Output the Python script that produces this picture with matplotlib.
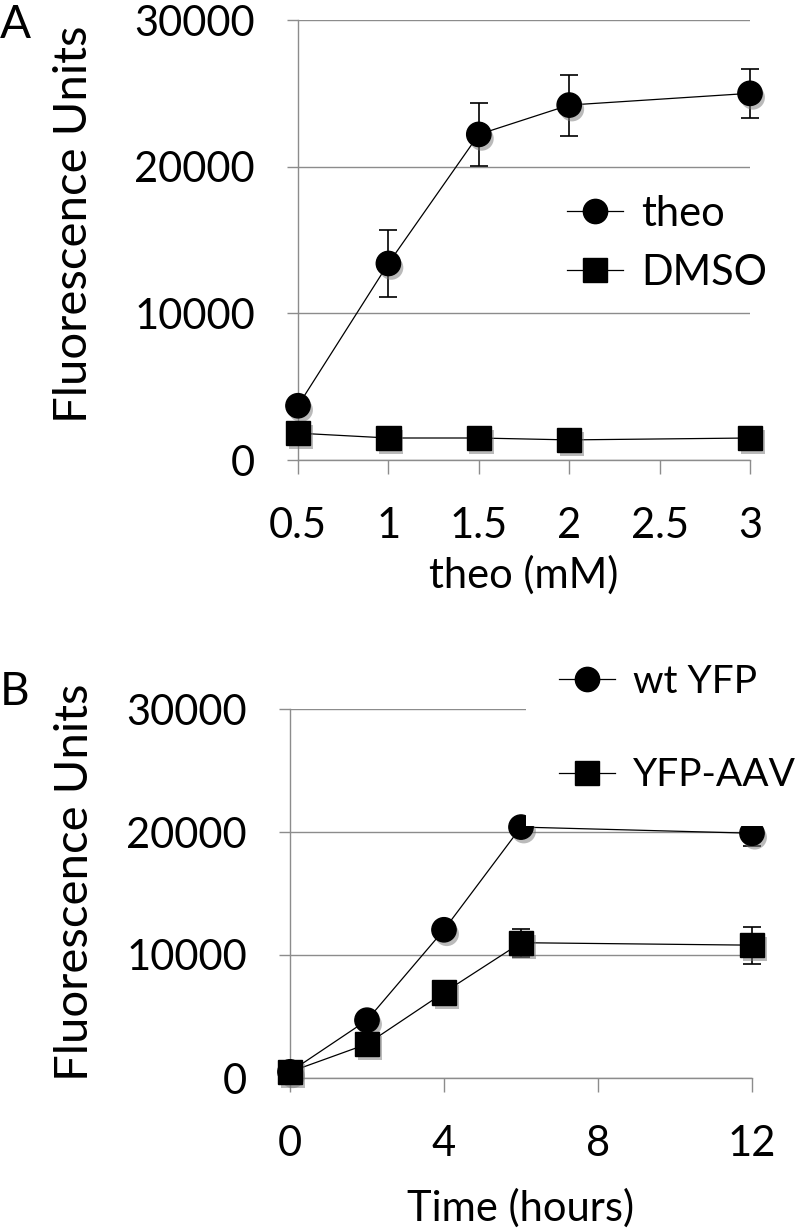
import matplotlib
matplotlib.use("Agg")
import matplotlib.pyplot as plt
import matplotlib.patheffects as pe
from matplotlib.lines import Line2D

plt.rcParams['font.family'] = ['Lato', 'DejaVu Sans']

# panel A: dose response
conc = [0.5, 1, 1.5, 2, 3]
theo = [3700, 13400, 22200, 24200, 25000]
theo_err = [300, 2300, 2170, 2080, 1650]
dmso = [1830, 1500, 1500, 1370, 1500]
dmso_err = [150, 150, 150, 150, 150]
a_xticks = [0.5, 1, 1.5, 2, 2.5, 3]
a_xticklabels = ['0.5', '1', '1.5', '2', '2.5', '3']

# panel B: time course
hours = [0, 2, 4, 6, 12]
wt = [500, 4700, 12050, 20400, 19900]
wt_err = [150, 200, 250, 300, 1000]
aav = [500, 2760, 6950, 11000, 10800]
aav_err = [150, 200, 250, 1150, 1500]
b_xticks = [0, 4, 8, 12]

yticks = [0, 10000, 20000, 30000]
yticklabels = ['0', '10000', '20000', '30000']

W, H = 800, 1231
fig = plt.figure(figsize=(W / 100, H / 100), dpi=100)

GRID = '#8c8c8c'
shadow = [pe.SimplePatchShadow(offset=(2, -3), shadow_rgbFace='#777777', alpha=0.5), pe.Normal()]


def px(x0, y0, x1, y1):
    # pixel box -> figure fraction [left, bottom, width, height]
    return [x0 / W, 1 - y1 / H, (x1 - x0) / W, (y1 - y0) / H]


def style(ax, xlim, xticks, xlabels, xlabel, xpad):
    ax.set_xlim(*xlim)
    ax.set_ylim(0, 30000)
    ax.set_xticks(xticks)
    ax.set_xticklabels(xlabels)
    ax.set_yticks(yticks)
    ax.set_yticklabels(yticklabels)
    for s in ['top', 'right']:
        ax.spines[s].set_visible(False)
    for s in ['left', 'bottom']:
        ax.spines[s].set_color(GRID)
        ax.spines[s].set_linewidth(1.0)
    ax.yaxis.grid(True, color=GRID, linewidth=1.0)
    ax.set_axisbelow(True)
    ax.tick_params(axis='y', direction='out', length=8, width=1.0, color=GRID,
                   pad=23, labelsize=30)
    ax.tick_params(axis='x', direction='out', length=10, width=1.0, color=GRID,
                   pad=24, labelsize=30)
    ax.set_xlabel(xlabel, fontsize=30, labelpad=xpad)
    ax.set_ylabel('Fluorescence Units', fontsize=34)


def series(ax, x, y, err, marker, ms):
    ax.plot(x, y, color='black', linewidth=0.9, zorder=3, clip_on=False)
    ax.errorbar(x, y, yerr=err, fmt='none', ecolor='black', elinewidth=1.2,
                capsize=6.5, capthick=1.2, zorder=4, clip_on=False)
    ax.plot(x, y, linestyle='none', marker=marker, markersize=ms, color='black',
            zorder=5, clip_on=False, path_effects=shadow)


# ---- A ----
axA = fig.add_axes(px(298, 20, 750, 460))
style(axA, (0.5, 3.0), a_xticks, a_xticklabels, 'theo (mM)', 7)
series(axA, conc, theo, theo_err, 'o', 17.5)
series(axA, conc, dmso, dmso_err, 's', 17.5)
axA.yaxis.set_label_coords(-0.45, 0.535)

hA = [Line2D([], [], color='black', linewidth=0.9, marker='o', markersize=17.5),
      Line2D([], [], color='black', linewidth=0.9, marker='s', markersize=17.5)]
axA.legend(hA, ['theo', 'DMSO'], loc='center left',
           bbox_to_anchor=(567 / W, 1 - 243.5 / H), bbox_transform=fig.transFigure,
           frameon=False, fontsize=30, borderpad=0, borderaxespad=0,
           handlelength=1.35, handletextpad=0.43, labelspacing=0.5)

# ---- B ----
axB = fig.add_axes(px(290, 709, 752, 1078))
style(axB, (0, 12), b_xticks, [str(t) for t in b_xticks], 'Time (hours)', 18)
series(axB, hours, wt, wt_err, 'o', 17.5)
series(axB, hours, aav, aav_err, 's', 17.5)
axB.yaxis.set_label_coords(-0.42, 0.53)

hB = [Line2D([], [], color='black', linewidth=0.9, marker='o', markersize=17.5),
      Line2D([], [], color='black', linewidth=0.9, marker='s', markersize=17.5)]
axB.legend(hB, ['wt YFP', 'YFP-AAV'], loc='center left',
           bbox_to_anchor=(526 / W, 1 - 728.5 / H), bbox_transform=fig.transFigure,
           frameon=True, facecolor='white', edgecolor='none', framealpha=1,
           fancybox=False, fontsize=28, borderpad=0.85, borderaxespad=0,
           handlelength=1.45, handletextpad=0.46, labelspacing=1.48)

fig.text(0, 1 - 38 / H, 'A', fontsize=33, va='baseline', ha='left')
fig.text(0, 1 - 705 / H, 'B', fontsize=33, va='baseline', ha='left')

fig.savefig('out.png', dpi=100)
